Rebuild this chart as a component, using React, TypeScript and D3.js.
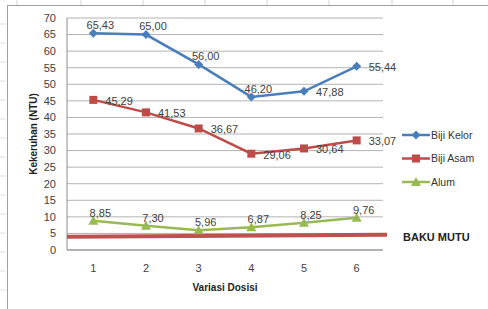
import React from 'react';
import * as d3 from 'd3';

const categories = ['1', '2', '3', '4', '5', '6'];
const bijiKelor = [65.43, 65.0, 56.0, 46.2, 47.88, 55.44];
const bijiAsam = [45.29, 41.53, 36.67, 29.06, 30.64, 33.07];
const alum = [8.85, 7.3, 5.96, 6.87, 8.25, 9.76];
const bakuMutu = [4, 4.6]; // left / right end of the standard line
const yTicks = [0, 5, 10, 15, 20, 25, 30, 35, 40, 45, 50, 55, 60, 65, 70];

// where each data label sits relative to its point
const kelorPlace = ['top', 'top', 'top', 'top', 'right', 'right'];
const asamPlace = ['right', 'right', 'right', 'right', 'right', 'right'];
const alumPlace = ['top', 'top', 'top', 'top', 'top', 'top'];

const W = 488;
const H = 309;
const plot = { left: 67, right: 383, top: 18, bottom: 250 };
const font = '"Liberation Sans", Arial, sans-serif';

const fmt = (v: number) => v.toFixed(2).replace('.', ',');

export default function App() {
  const x = d3.scaleBand().domain(categories).range([plot.left, plot.right]);
  const y = d3.scaleLinear().domain([0, 70]).range([plot.bottom, plot.top]);
  const cx = (c: string) => x(c)! + x.bandwidth() / 2;

  const line = d3
    .line<number>()
    .x((_, i) => cx(categories[i]))
    .y((d) => y(d));

  const series = [
    { name: 'Biji Kelor', values: bijiKelor, color: '#4a7ebb', marker: 'diamond', place: kelorPlace },
    { name: 'Biji Asam', values: bijiAsam, color: '#be4b48', marker: 'square', place: asamPlace },
    { name: 'Alum', values: alum, color: '#98b954', marker: 'triangle', place: alumPlace },
  ];

  const marker = (type: string, px: number, py: number, color: string, key: string | number) => {
    if (type === 'diamond') {
      const s = 4.5;
      return <path key={key} d={`M${px},${py - s}L${px + s},${py}L${px},${py + s}L${px - s},${py}Z`} fill={color} />;
    }
    if (type === 'square') {
      return <rect key={key} x={px - 4} y={py - 4} width={8} height={8} fill={color} />;
    }
    return <path key={key} d={`M${px},${py - 5}L${px + 5},${py + 4}L${px - 5},${py + 4}Z`} fill={color} />;
  };

  const sheetCols = [17, 81, 143, 205, 267, 329, 392, 453];
  const sheetRows = d3.range(24, H, 19);

  return (
    <svg width={W} height={H} style={{ position: 'absolute', left: 0, top: 0, background: '#fff' }} fontFamily={font}>
      {/* spreadsheet frame */}
      {sheetCols.map((c) => (
        <line key={'c' + c} x1={c} x2={c} y1={0} y2={5} stroke="#d4d4d4" />
      ))}
      {sheetRows.map((r) => (
        <line key={'r' + r} x1={0} x2={6} y1={r} y2={r} stroke="#e0e0e0" />
      ))}
      <line x1={7} x2={W} y1={5.5} y2={5.5} stroke="#a0a0a0" />
      <line x1={7.5} x2={7.5} y1={5} y2={H} stroke="#a0a0a0" />

      {/* gridlines */}
      {yTicks.map((t) => (
        <line key={t} x1={plot.left} x2={plot.right} y1={y(t)} y2={y(t)} stroke="#b3b3b3" strokeWidth={1} />
      ))}
      <line x1={plot.left} x2={plot.left} y1={plot.top} y2={plot.bottom} stroke="#8c8c8c" />
      <line x1={plot.left} x2={plot.right} y1={plot.bottom} y2={plot.bottom} stroke="#8c8c8c" />

      {/* y tick labels */}
      {yTicks.map((t) => (
        <text key={'t' + t} x={56} y={y(t)} dy="0.35em" textAnchor="end" fontSize={11} fill="#404040">
          {t}
        </text>
      ))}
      {/* x tick labels */}
      {categories.map((c) => (
        <text key={'x' + c} x={cx(c)} y={268} dy="0.35em" textAnchor="middle" fontSize={11} fill="#404040">
          {c}
        </text>
      ))}

      {/* axis titles */}
      <text
        transform={`translate(33,${(plot.top + plot.bottom) / 2}) rotate(-90)`}
        textAnchor="middle"
        dy="0.35em"
        fontSize={10}
        fontWeight="bold"
        fill="#222"
      >
        Kekeruhan (NTU)
      </text>
      <text x={225} y={287} dy="0.35em" textAnchor="middle" fontSize={10} fontWeight="bold" fill="#222">
        Variasi Dosisi
      </text>

      {/* baku mutu line */}
      <line
        x1={plot.left}
        x2={plot.right + 4}
        y1={y(bakuMutu[0])}
        y2={y(bakuMutu[1])}
        stroke="#c0504d"
        strokeWidth={4}
      />

      {/* series */}
      {series.map((s) => (
        <g key={s.name}>
          <path d={line(s.values)!} fill="none" stroke={s.color} strokeWidth={2.5} />
          {s.values.map((v, i) => marker(s.marker, cx(categories[i]), y(v), s.color, i))}
          {s.values.map((v, i) => {
            const px = cx(categories[i]);
            const py = y(v);
            const top = s.place[i] === 'top';
            return (
              <text
                key={'l' + i}
                x={top ? px + 7 : px + 12}
                y={top ? py - 8 : py + 1}
                dy="0.35em"
                textAnchor={top ? 'middle' : 'start'}
                fontSize={11}
                fill="#404040"
              >
                {fmt(v)}
              </text>
            );
          })}
        </g>
      ))}

      {/* legend */}
      {series.map((s, i) => {
        const ly = 135 + i * 23.5;
        return (
          <g key={'lg' + s.name}>
            <line x1={402} x2={430} y1={ly} y2={ly} stroke={s.color} strokeWidth={2.5} />
            {marker(s.marker, 416, ly, s.color, 'm')}
            <text x={431} y={ly} dy="0.35em" fontSize={10.5} fill="#333">
              {s.name}
            </text>
          </g>
        );
      })}
      <text x={403} y={237} dy="0.35em" fontSize={11} fontWeight="bold" fill="#222">
        BAKU MUTU
      </text>
    </svg>
  );
}
